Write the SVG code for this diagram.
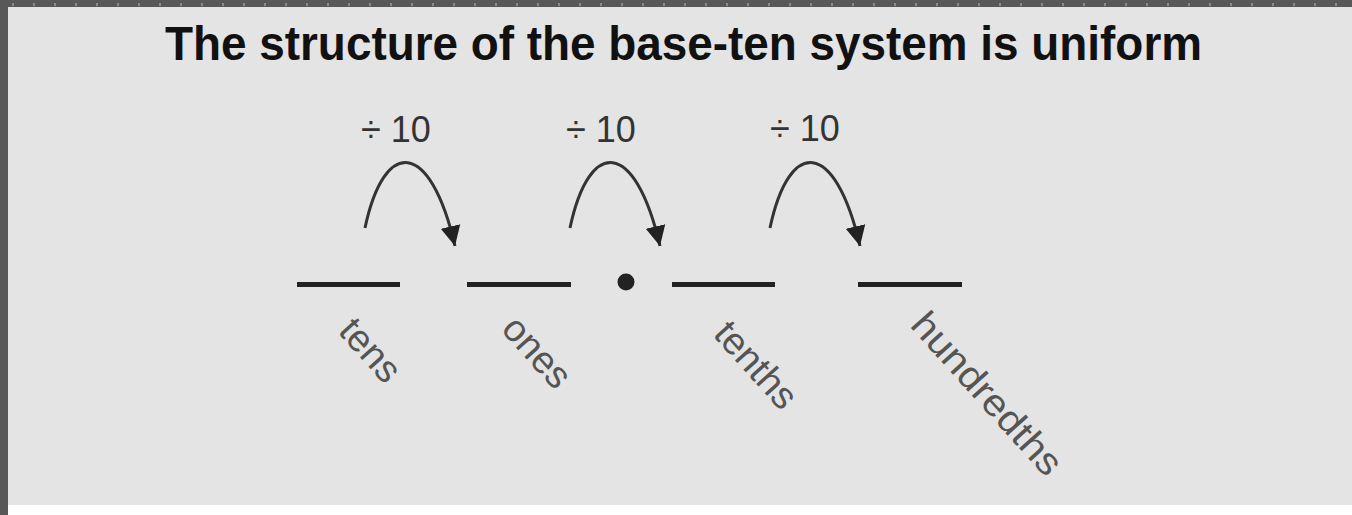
<svg xmlns="http://www.w3.org/2000/svg" width="1352" height="515" viewBox="0 0 1352 515">
  <defs>
    <pattern id="ticks" x="0" y="0" width="21" height="7" patternUnits="userSpaceOnUse">
      <rect x="12" y="3" width="2" height="3" fill="#8c8c8c"/>
    </pattern>
    <marker id="ah" markerUnits="userSpaceOnUse" markerWidth="24" markerHeight="24" viewBox="0 0 24 24" refX="20" refY="12" orient="auto">
      <path d="M0,2 L20,12 L0,22 Z" fill="#222"/>
    </marker>
    <style>
      .title { font-family: "Liberation Sans", Arial, sans-serif; font-weight: bold; font-size: 48px; fill: #111; }
      .op { font-family: "Liberation Sans", Arial, sans-serif; font-size: 36px; fill: #333; }
      .lab { font-family: "Liberation Sans", Arial, sans-serif; font-size: 38px; fill: #555; }
      .place { stroke: #222; stroke-width: 5; }
      .arc { fill: none; stroke: #333; stroke-width: 3; marker-end: url(#ah); }
    </style>
  </defs>
  <!-- frame -->
  <rect x="0" y="0" width="1352" height="515" fill="#ffffff"/>
  <rect x="8" y="7" width="1344" height="498" fill="#e4e4e4"/>
  <rect x="0" y="0" width="1352" height="7" fill="#585858"/>
  <rect x="0" y="0" width="1352" height="7" fill="url(#ticks)"/>
  <rect x="0" y="0" width="8" height="515" fill="#585858"/>

  <g id="title">
    <text class="title" x="165" y="60" textLength="1037" lengthAdjust="spacingAndGlyphs">The structure of the base-ten system is uniform</text>
  </g>

  <g id="place-tens">
    <line class="place" x1="297" y1="284.5" x2="400" y2="284.5"/>
    <text class="lab" transform="translate(337,332) rotate(48)">tens</text>
  </g>
  <g id="place-ones">
    <line class="place" x1="467" y1="284.5" x2="571" y2="284.5"/>
    <text class="lab" transform="translate(500,330) rotate(48)">ones</text>
  </g>
  <g id="decimal-point">
    <circle cx="626" cy="282" r="8.5" fill="#222"/>
  </g>
  <g id="place-tenths">
    <line class="place" x1="672" y1="284.5" x2="775" y2="284.5"/>
    <text class="lab" transform="translate(712,335) rotate(48)">tenths</text>
  </g>
  <g id="place-hundredths">
    <line class="place" x1="858" y1="284.5" x2="962" y2="284.5"/>
    <text class="lab" transform="translate(909,326) rotate(48)" textLength="205" lengthAdjust="spacingAndGlyphs">hundredths</text>
  </g>

  <g id="labels">
    <text class="op" x="361" y="142">÷ 10</text>
    <text class="op" x="566" y="142">÷ 10</text>
    <text class="op" x="770" y="141">÷ 10</text>
  </g>

  <g id="connectors">
    <path class="arc" d="M365,228 C384,138 430,138 455,246"/>
    <path class="arc" d="M570,228 C589,138 635,138 660,246"/>
    <path class="arc" d="M770,228 C789,138 835,138 860,246"/>
  </g>
</svg>
